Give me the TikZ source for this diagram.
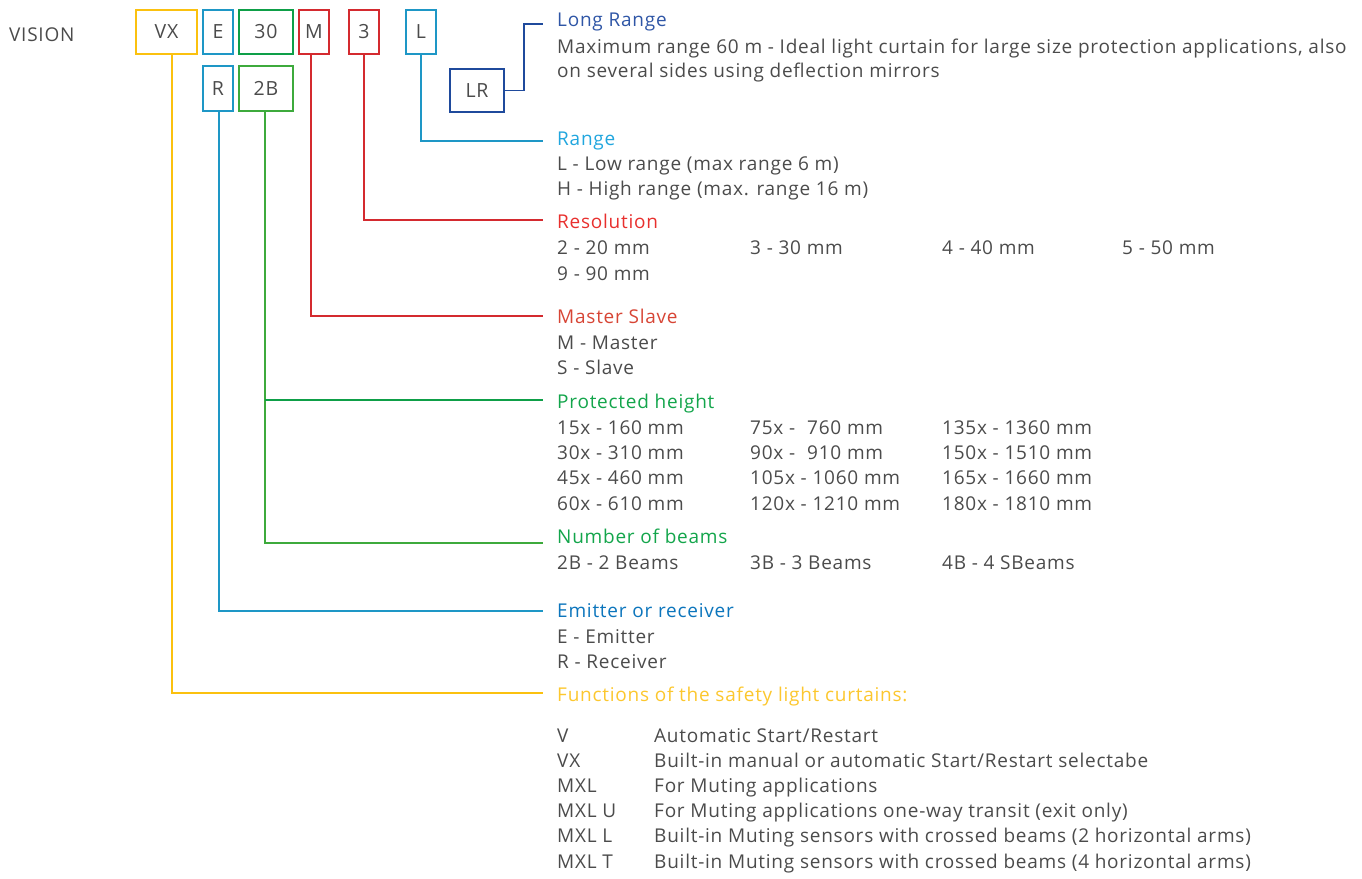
\documentclass[tikz,border=0pt]{standalone}
\usepackage{fontspec}
\setmainfont{Open Sans}[LetterSpace=4]
\definecolor{txtgray}{HTML}{4B4B4B}
\definecolor{yel}{HTML}{FBC10F}
\definecolor{yeltxt}{HTML}{FCC72E}
\definecolor{cya}{HTML}{1E97C6}
\definecolor{cyatxt}{HTML}{21A6DE}
\definecolor{blutxt}{HTML}{0C75BC}
\definecolor{grn}{HTML}{0E9F48}
\definecolor{grnb}{HTML}{3DAA3C}
\definecolor{grntxt}{HTML}{13A54B}
\definecolor{red1}{HTML}{D42A2F}
\definecolor{redtxt}{HTML}{E8302E}
\definecolor{mstxt}{HTML}{D74535}
\definecolor{navy}{HTML}{1F4A9C}
\definecolor{navytxt}{HTML}{2F56A6}
\begin{document}
\begin{tikzpicture}[x=1pt,y=-1pt,
  codebox/.style={draw, line width=2.2pt, inner sep=0pt, text=txtgray,
    font=\fontsize{19.5}{20}\selectfont},
  txt/.style={anchor=base west, inner sep=0pt, text=txtgray,
    font=\fontsize{19}{25}\selectfont},
  head/.style={txt},
  conn/.style={line width=1.9pt}
]
\useasboundingbox (0,0) rectangle (1362,878);

% prefix
\node[txt] (vision) at (9,41) {VISION};

% code boxes
\node[codebox, draw=yel, minimum width=61pt, minimum height=44pt] (vx) at (166.5,32) {VX};
\node[codebox, draw=cya, minimum width=30pt, minimum height=44pt] (e) at (218,32) {E};
\node[codebox, draw=grn, minimum width=54pt, minimum height=44pt] (b30) at (266,32) {30};
\node[codebox, draw=red1, minimum width=30pt, minimum height=44pt] (m) at (314,32) {M};
\node[codebox, draw=red1, minimum width=30pt, minimum height=44pt] (r3) at (364,32) {3};
\node[codebox, draw=cya, minimum width=30pt, minimum height=44pt] (l) at (421,32) {L};
\node[codebox, draw=cya, minimum width=30pt, minimum height=45pt] (r) at (218,88.5) {R};
\node[codebox, draw=grnb, minimum width=54pt, minimum height=45pt] (b2) at (266,88.5) {2B};
\node[codebox, draw=navy, minimum width=54pt, minimum height=43pt] (lr) at (477,90.5) {LR};

% connector end points
\coordinate (lrEnd) at (543,24);
\coordinate (lEnd) at (543,141);
\coordinate (resEnd) at (543,220);
\coordinate (msEnd) at (543,316);
\coordinate (phEnd) at (543,400);
\coordinate (nbEnd) at (543,543);
\coordinate (erEnd) at (543,611);
\coordinate (fnEnd) at (543,693);

% connectors
\draw[conn, navy] (lr.east) -- ++(19,0) |- (lrEnd);
\draw[conn, cya] (l.south) |- (lEnd);
\draw[conn, red1] (r3.south) |- (resEnd);
\draw[conn, red1] ([xshift=-3pt]m.south) |- (msEnd);
\draw[conn, grnb] ([xshift=-1pt]b2.south) |- (nbEnd);
\draw[conn, grn] ([xshift=-1pt]b2.south |- phEnd) -- (phEnd);
\draw[conn, cya] ([xshift=1pt]r.south) |- (erEnd);
\draw[conn, yel] ([xshift=5.5pt]vx.south) |- (fnEnd);

% Long Range
\node[head, text=navytxt] (hLR) at (557,26) {Long Range};
\node[txt] (lr1) at (557,53) {Maximum range 60 m - Ideal light curtain for large size protection applications, also};
\node[txt] (lr2) at (557,77) {on several sides using deflection mirrors};

% Range
\node[head, text=cyatxt] (hR) at (557,145) {Range};
\node[txt] (r1) at (557,170) {L - Low range (max range 6 m)};
\node[txt] (r2) at (557,195) {H - High range (max. range 16 m)};

% Resolution
\node[head, text=redtxt] (hRes) at (557,228) {Resolution};
\node[txt] (res1) at (557,254) {2 - 20 mm};
\node[txt] (res2) at (750,254) {3 - 30 mm};
\node[txt] (res3) at (942,254) {4 - 40 mm};
\node[txt] (res4) at (1122,254) {5 - 50 mm};
\node[txt] (res5) at (557,280) {9 - 90 mm};

% Master slave
\node[head, text=mstxt] (hMS) at (557,323) {Master Slave};
\node[txt] (ms1) at (557,349) {M - Master};
\node[txt] (ms2) at (557,374) {S - Slave};

% Protected height
\node[head, text=grntxt] (hPH) at (557,408) {Protected height};
\node[txt] (ph11) at (557,434) {15x - 160 mm};
\node[txt] (ph12) at (557,459) {30x - 310 mm};
\node[txt] (ph13) at (557,484) {45x - 460 mm};
\node[txt] (ph14) at (557,510) {60x - 610 mm};
\node[txt] (ph21) at (750,434) {75x -\hspace{12pt}760 mm};
\node[txt] (ph22) at (750,459) {90x -\hspace{12pt}910 mm};
\node[txt] (ph23) at (750,484) {105x - 1060 mm};
\node[txt] (ph24) at (750,510) {120x - 1210 mm};
\node[txt] (ph31) at (942,434) {135x - 1360 mm};
\node[txt] (ph32) at (942,459) {150x - 1510 mm};
\node[txt] (ph33) at (942,484) {165x - 1660 mm};
\node[txt] (ph34) at (942,510) {180x - 1810 mm};

% Number of beams
\node[head, text=grntxt] (hNB) at (557,543) {Number of beams};
\node[txt] (nb1) at (557,569) {2B - 2 Beams};
\node[txt] (nb2) at (750,569) {3B - 3 Beams};
\node[txt] (nb3) at (942,569) {4B - 4 SBeams};

% Emitter or receiver
\node[head, text=blutxt] (hER) at (557,617) {Emitter or receiver};
\node[txt] (er1) at (557,643) {E - Emitter};
\node[txt] (er2) at (557,668) {R - Receiver};

% Functions
\node[head, text=yeltxt] (hFn) at (557,701) {Functions of the safety light curtains:};
\node[txt] (fc1) at (557,742) {V};
\node[txt] (fc2) at (557,767) {VX};
\node[txt] (fc3) at (557,792) {MXL};
\node[txt] (fc4) at (557,817) {MXL U};
\node[txt] (fc5) at (557,842) {MXL L};
\node[txt] (fc6) at (557,868) {MXL T};
\node[txt] (fd1) at (654,742) {Automatic Start/Restart};
\node[txt] (fd2) at (654,767) {Built-in manual or automatic Start/Restart selectabe};
\node[txt] (fd3) at (654,792) {For Muting applications};
\node[txt] (fd4) at (654,817) {For Muting applications one-way transit (exit only)};
\node[txt] (fd5) at (654,842) {Built-in Muting sensors with crossed beams (2 horizontal arms)};
\node[txt] (fd6) at (654,868) {Built-in Muting sensors with crossed beams (4 horizontal arms)};
\end{tikzpicture}
\end{document}
